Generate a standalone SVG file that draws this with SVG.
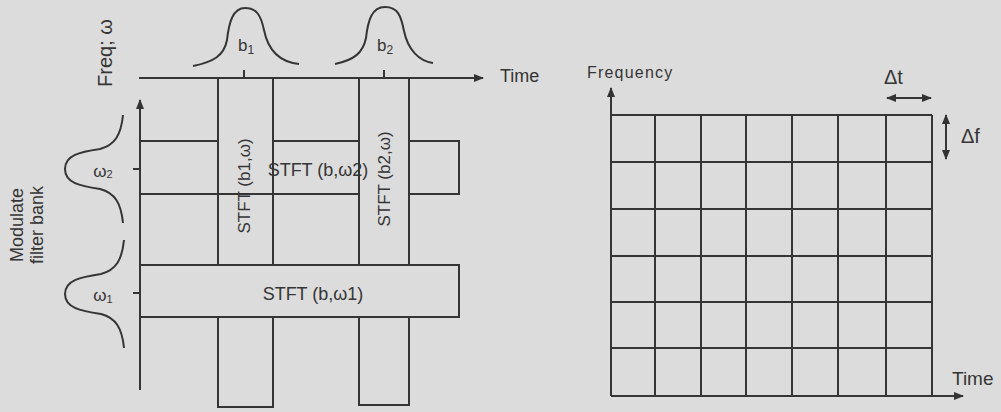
<svg xmlns="http://www.w3.org/2000/svg" width="1001" height="412" viewBox="0 0 1001 412">
<defs>
<marker id="ah" viewBox="0 0 10 8" refX="9" refY="4" markerWidth="10" markerHeight="8" markerUnits="userSpaceOnUse" orient="auto-start-reverse">
<path d="M0,0 L10,4 L0,8 Z" fill="#333"/>
</marker>
<style>
.ln{stroke:#353535;stroke-width:2;fill:none}
.bx{stroke:#353535;stroke-width:2;fill:#dcdcdc}
.t{font-family:"Liberation Sans",Arial,sans-serif;fill:#353535}
</style>
</defs>
<rect width="1001" height="412" fill="#dcdcdc"/>

<g id="left-axes">
<line class="ln" x1="139" y1="78" x2="483" y2="78" marker-end="url(#ah)"/>
<line class="ln" x1="140" y1="390" x2="140" y2="100" marker-end="url(#ah)"/>
<line class="ln" x1="244" y1="70" x2="244" y2="78"/>
<line class="ln" x1="384" y1="70" x2="384" y2="78"/>
<line class="ln" x1="133" y1="169" x2="147" y2="169"/>
<line class="ln" x1="133" y1="293" x2="147" y2="293"/>
<text class="t" x="500" y="82" font-size="18">Time</text>
<text class="t" transform="translate(112,53) rotate(-90)" text-anchor="middle" font-size="20">Freq; ω</text>
<text class="t" transform="translate(23,225) rotate(-90)" text-anchor="middle" font-size="18">Modulate</text>
<text class="t" transform="translate(43,225) rotate(-90)" text-anchor="middle" font-size="18">filter bank</text>
</g>

<g id="windows">
<path class="ln" d="M193,66 C213,62 224,56 227,40 C229,22 233,8 245,8 C257,8 261,16 264,30 C268,50 280,62 299,64"/>
<path class="ln" d="M335,64 C354,60 363,53 366,38 C368,20 372,7 385,7 C398,7 401,16 404,31 C408,50 419,61 433,63"/>
<path class="ln" d="M123,115 C121,135 115,145 100,149 C80,152 65,155 65,169 C65,183 80,186 100,189 C115,193 121,203 123,223"/>
<path class="ln" d="M124,240 C122,260 116,270 101,274 C81,277 65,280 65,294 C65,308 81,311 101,314 C116,318 122,328 124,348"/>
<text class="t" x="246" y="51" font-size="17" text-anchor="middle">b<tspan font-size="12" dy="3">1</tspan></text>
<text class="t" x="385" y="51" font-size="17" text-anchor="middle">b<tspan font-size="12" dy="3">2</tspan></text>
<text class="t" x="103" y="177" font-size="17" text-anchor="middle">ω<tspan font-size="11" dy="1">2</tspan></text>
<text class="t" x="103" y="301" font-size="17" text-anchor="middle">ω<tspan font-size="11" dy="2">1</tspan></text>
</g>

<g id="band-w2">
<rect class="bx" x="140" y="141" width="319" height="53"/>
</g>
<g id="strip-b1">
<rect class="bx" x="218" y="78" width="55" height="329"/>
</g>
<g id="strip-b2">
<rect class="bx" x="359" y="78" width="50" height="327"/>
</g>
<line class="ln" x1="218" y1="194" x2="273" y2="194"/>
<g id="band-w1">
<rect class="bx" x="140" y="265" width="319" height="52"/>
</g>

<g id="labels">
<text class="t" x="318" y="176" font-size="18" text-anchor="middle">STFT (b,ω2)</text>
<text class="t" x="313" y="300" font-size="18" text-anchor="middle">STFT (b,ω1)</text>
<text class="t" transform="translate(250,186) rotate(-90)" text-anchor="middle" font-size="17">STFT (b1,ω)</text>
<text class="t" transform="translate(390,179) rotate(-90)" text-anchor="middle" font-size="17">STFT (b2,ω)</text>
</g>

<g id="tf-grid">
<path class="ln" d="M611,115 H932 M611,162 H932 M611,209 H932 M611,256 H932 M611,302 H932 M611,348 H932 M655,115 V396 M701,115 V396 M746,115 V396 M792,115 V396 M838,115 V396 M886,115 V396 M932,115 V396"/>
<line class="ln" x1="611" y1="396" x2="611" y2="88" marker-end="url(#ah)"/>
<line class="ln" x1="611" y1="396" x2="963" y2="396" marker-end="url(#ah)"/>
<line class="ln" x1="887" y1="98" x2="931" y2="98" marker-start="url(#ah)" marker-end="url(#ah)"/>
<line class="ln" x1="946" y1="115" x2="946" y2="159" marker-start="url(#ah)" marker-end="url(#ah)"/>
<text class="t" x="587" y="78" font-size="16" letter-spacing="1.2">Frequency</text>
<text class="t" x="952" y="385" font-size="19">Time</text>
<text class="t" x="884" y="84" font-size="20">Δt</text>
<text class="t" x="961" y="143" font-size="20">Δf</text>
</g>
</svg>
